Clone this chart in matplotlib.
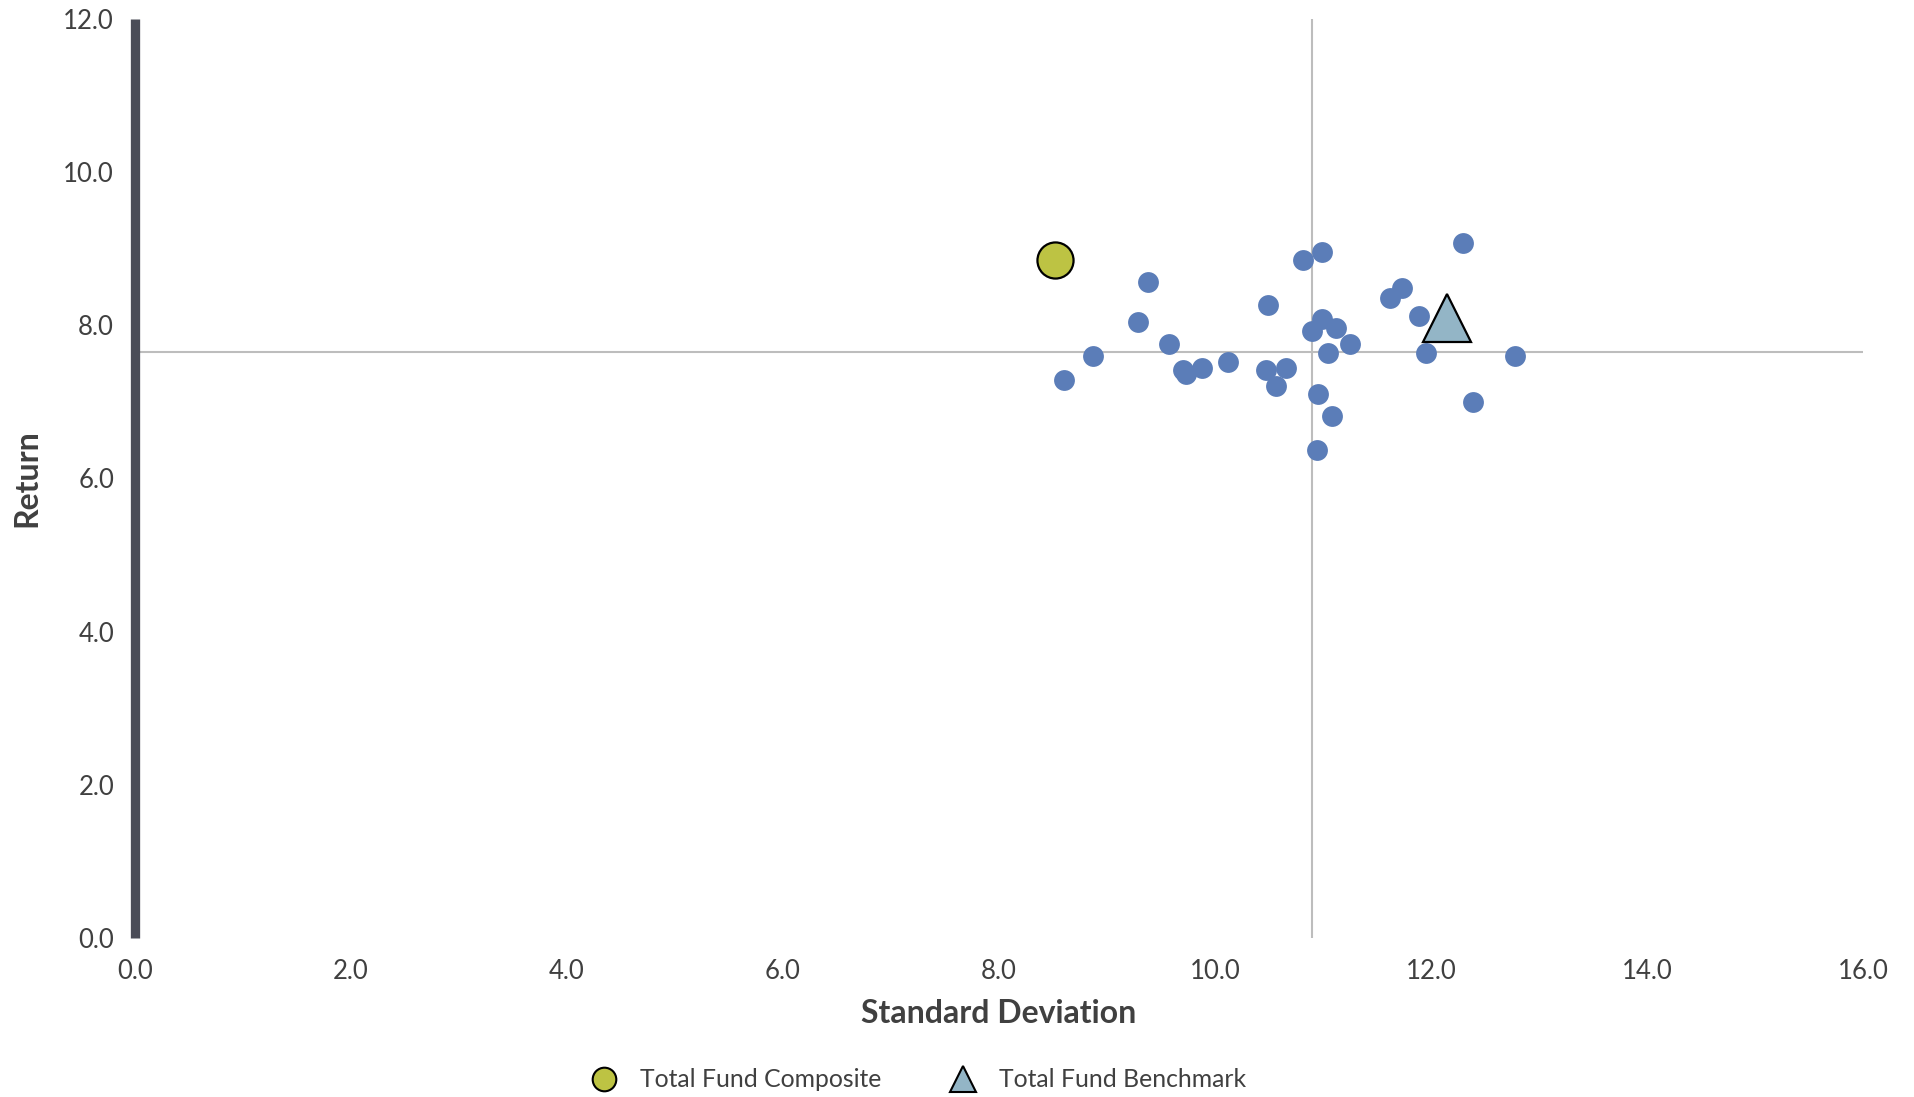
import matplotlib.pyplot as plt
from matplotlib.lines import Line2D

plt.rcParams['font.family'] = ['Lato', 'DejaVu Sans']

# peer universe (standard deviation, return)
peer_std = [12.30, 10.99, 10.81, 9.38, 11.73, 11.62, 10.49, 11.89, 9.29, 10.99,
            11.12, 10.90, 9.57, 11.25, 11.05, 11.95, 8.87, 12.78, 10.12, 8.60,
            9.88, 9.70, 9.73, 10.47, 10.66, 10.56, 10.95, 12.39, 11.08, 10.94]
peer_ret = [9.08, 8.95, 8.85, 8.56, 8.48, 8.35, 8.27, 8.12, 8.04, 8.08,
            7.96, 7.93, 7.75, 7.75, 7.64, 7.64, 7.60, 7.60, 7.52, 7.28,
            7.44, 7.42, 7.36, 7.42, 7.44, 7.21, 7.10, 7.00, 6.81, 6.37]

composite_std = [8.52]
composite_ret = [8.85]
benchmark_std = [12.15]
benchmark_ret = [8.09]

# median lines of the universe
median_std = 10.90
median_ret = 7.65

x_ticks = [0, 2, 4, 6, 8, 10, 12, 14, 16]
y_ticks = [0, 2, 4, 6, 8, 10, 12]

TEXT = '#404040'
BLUE = '#5B7DB8'
GREEN = '#BDC343'
TEAL = '#93B5C6'

fig = plt.figure(figsize=(19.14, 10.97), dpi=100)
ax = fig.add_axes([0.0705, 0.145, 0.9029, 0.8378])

ax.axvline(median_std, color='#BDBDBD', lw=1.5, zorder=1)
ax.axhline(median_ret, color='#BDBDBD', lw=1.5, zorder=1)

ax.plot(peer_std, peer_ret, 'o', ms=15, color=BLUE, mec='none', zorder=3)
ax.plot(composite_std, composite_ret, 'o', ms=26, mfc=GREEN, mec='black',
        mew=1.6, zorder=4)
ax.plot(benchmark_std, benchmark_ret, '^', ms=34, mfc=TEAL, mec='black',
        mew=1.6, zorder=4)

ax.set_xlim(0, 16)
ax.set_ylim(0, 12)
ax.set_xticks(x_ticks)
ax.set_yticks(y_ticks)
ax.set_xticklabels([f'{v:.1f}' for v in x_ticks])
ax.set_yticklabels([f'{v:.1f}' for v in y_ticks])
ax.tick_params(length=0, labelsize=18.5, colors=TEXT)
ax.tick_params(axis='x', pad=15)
ax.tick_params(axis='y', pad=15)

for side in ['top', 'right', 'bottom']:
    ax.spines[side].set_visible(False)
ax.spines['left'].set_color('#4A4C57')
ax.spines['left'].set_linewidth(6.7)
ax.spines['left'].set_capstyle('butt')

ax.set_xlabel('Standard Deviation', fontsize=23, weight='bold', color=TEXT)
ax.xaxis.set_label_coords(0.5, -0.082)
ax.xaxis.label.set_verticalalignment('center')
ax.set_ylabel('Return', fontsize=23, weight='bold', color=TEXT)
ax.yaxis.set_label_coords(-0.0625, 0.5)
ax.yaxis.label.set_verticalalignment('center')

handles = [
    Line2D([], [], ls='none', marker='o', ms=17, mfc=GREEN, mec='black', mew=1.5),
    Line2D([], [], ls='none', marker='^', ms=19, mfc=TEAL, mec='black', mew=1.5),
]
fig.legend(handles, ['Total Fund Composite', 'Total Fund Benchmark'],
           loc='center', bbox_to_anchor=(0.477, 0.0155), ncol=2,
           frameon=False, fontsize=17.8, labelcolor=TEXT,
           columnspacing=2.3, handletextpad=0.45, borderpad=0)

fig.savefig('out.png', dpi=100)
